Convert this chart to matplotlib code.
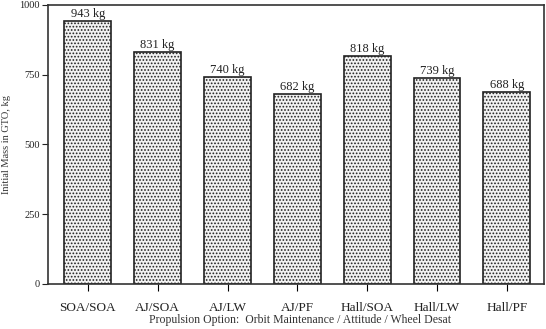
import matplotlib
matplotlib.use("Agg")
import matplotlib.pyplot as plt

# data
categories = ["SOA/SOA", "AJ/SOA", "AJ/LW", "AJ/PF", "Hall/SOA", "Hall/LW", "Hall/PF"]
masses = [943, 831, 740, 682, 818, 739, 688]
value_labels = ["943 kg", "831 kg", "740 kg", "682 kg", "818 kg", "739 kg", "688 kg"]
yticks = [0, 250, 500, 750, 1000]

plt.rcParams["font.family"] = ["Liberation Serif", "DejaVu Serif"]
plt.rcParams["hatch.color"] = "#7a7a7a"
plt.rcParams["hatch.linewidth"] = 0.8

fig = plt.figure(figsize=(5.46, 3.29), dpi=100)
ax = fig.add_axes([0.088, 0.137, 0.908, 0.848])

x = list(range(len(categories)))
ax.bar(x, masses, width=0.67, facecolor="#f2f2f2", edgecolor="#222222",
       linewidth=1.2, hatch=".....")

for xi, m, lab in zip(x, masses, value_labels):
    ax.text(xi, m + 4, lab, ha="center", va="bottom", fontsize=9, color="#222222")

ax.set_xlim(-0.57, 6.53)
ax.set_ylim(0, 1000)
ax.set_yticks(yticks)
ax.set_xticks(x)
ax.set_xticklabels(categories, fontsize=9.5, color="#222222")
ax.tick_params(axis="y", labelsize=7.5, direction="out", length=4, colors="#222222", pad=2)
ax.tick_params(axis="x", direction="out", length=5, pad=8)
for s in ax.spines.values():
    s.set_linewidth(1.2)
    s.set_color("#333333")

ax.set_ylabel("Initial Mass in GTO, kg", fontsize=7.5, color="#333333", labelpad=6)

fig.text(0.55, 1 - 320 / 329, "Propulsion Option:  Orbit Maintenance / Attitude / Wheel Desat",
         ha="center", va="center", fontsize=8.5, color="#333333")

fig.savefig("out.png", dpi=100)
